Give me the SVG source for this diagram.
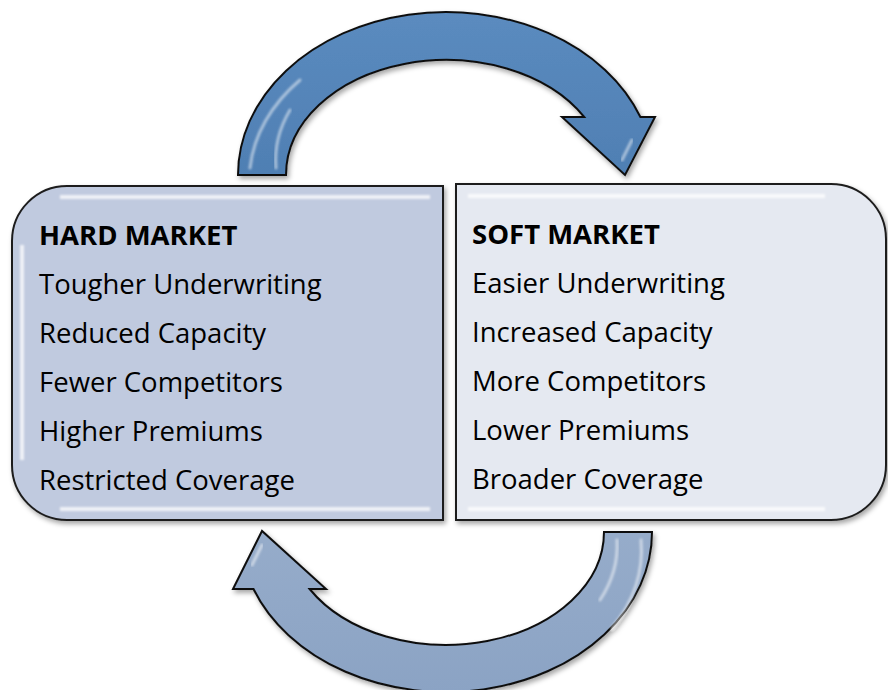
<svg xmlns="http://www.w3.org/2000/svg" width="888" height="690" viewBox="0 0 888 690">
<defs>
<style>
.box{stroke:#1e1e1e;stroke-width:2}
.hl{fill:none;stroke:#ffffff;stroke-width:4;stroke-opacity:0.75}
.t{font-family:"Open Sans","Noto Sans","Liberation Sans",sans-serif;font-size:27.5px;fill:#000}
.b{font-weight:bold}
.arrow{stroke:#111;stroke-width:2;stroke-linejoin:miter}
.gl{fill:none;stroke:#ffffff;stroke-width:3;stroke-opacity:0.5;stroke-linecap:round}
</style>
<linearGradient id="gTop" x1="0" y1="0" x2="0" y2="1">
<stop offset="0" stop-color="#5b8bbf"/>
<stop offset="1" stop-color="#4f7fb3"/>
</linearGradient>
<linearGradient id="gBot" x1="0" y1="0" x2="0" y2="1">
<stop offset="0" stop-color="#96acca"/>
<stop offset="1" stop-color="#8ba3c4"/>
</linearGradient>
<filter id="sh" x="-10%" y="-10%" width="120%" height="125%">
<feDropShadow dx="2" dy="3" stdDeviation="2.5" flood-color="#000" flood-opacity="0.35"/>
</filter>
<filter id="blur"><feGaussianBlur stdDeviation="1.2"/></filter>
</defs>

<g id="connectors">
<g id="arrow-top" filter="url(#sh)">
<path class="arrow" fill="url(#gTop)" d="M 238 175 A 208 163 0 0 1 640.4 117 L 655 117 L 625 175 L 562 117 L 584.2 117 A 160 115 0 0 0 286 175 Z"/>
<path class="gl" filter="url(#blur)" d="M 250 168 A 196 150 0 0 1 300 80"/>
<path class="gl" filter="url(#blur)" d="M 276 168 A 170 125 0 0 1 290 110"/>
<path class="gl" filter="url(#blur)" d="M 622 160 L 632 140"/>
</g>
<g id="arrow-bottom" filter="url(#sh)">
<path class="arrow" fill="url(#gBot)" d="M 604 532 L 652 532 A 206 160 0 0 1 253.5 589 L 233 589 L 262 531 L 326 589 L 309.6 589 A 158 113 0 0 0 604 532 Z"/>
<path class="gl" filter="url(#blur)" d="M 617 540 A 170 125 0 0 1 600 600"/>
<path class="gl" filter="url(#blur)" d="M 641 540 A 195 148 0 0 1 612 628"/>
<path class="gl" filter="url(#blur)" d="M 262 545 L 252 565"/>
</g>
</g>

<g id="hard-market">
<path class="box" filter="url(#sh)" fill="#c0cadf" d="M 443 186 L 443 520 L 67 520 A 55 55 0 0 1 12 465 L 12 241 A 55 55 0 0 1 67 186 Z"/>
<path class="hl" filter="url(#blur)" d="M 60 197 L 430 197 M 60 509 L 430 509 M 22 245 L 22 460"/>
<text class="t b" x="39" y="245">HARD MARKET</text>
<text class="t" x="39" y="294">Tougher Underwriting</text>
<text class="t" x="39" y="343">Reduced Capacity</text>
<text class="t" x="39" y="392">Fewer Competitors</text>
<text class="t" x="39" y="441">Higher Premiums</text>
<text class="t" x="39" y="490">Restricted Coverage</text>
</g>

<g id="soft-market">
<path class="box" filter="url(#sh)" fill="#e5e9f1" d="M 456 184 L 831 184 A 55 55 0 0 1 886 239 L 886 465 A 55 55 0 0 1 831 520 L 456 520 Z"/>
<path class="hl" filter="url(#blur)" d="M 468 196 L 825 196 M 468 509 L 825 509"/>
<text class="t b" x="472" y="244">SOFT MARKET</text>
<text class="t" x="472" y="293">Easier Underwriting</text>
<text class="t" x="472" y="342">Increased Capacity</text>
<text class="t" x="472" y="391">More Competitors</text>
<text class="t" x="472" y="440">Lower Premiums</text>
<text class="t" x="472" y="489">Broader Coverage</text>
</g>
</svg>
